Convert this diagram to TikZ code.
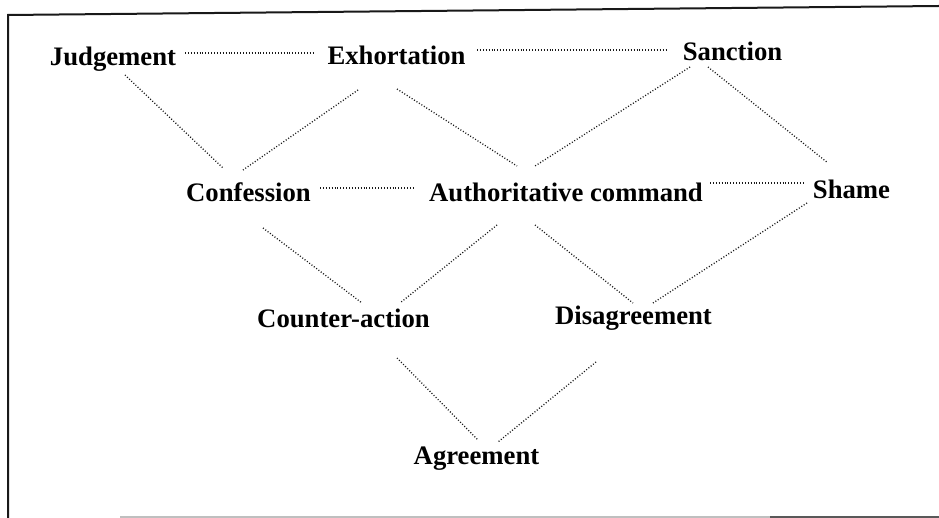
\documentclass[tikz,border=0pt]{standalone}
\usepackage{fontspec}
\setmainfont{Liberation Serif}
\begin{document}
\begin{tikzpicture}[x=1pt,y=-1pt,
  term/.style={anchor=base,inner sep=0pt,font=\fontsize{26.7}{30}\selectfont\bfseries,text=black},
  link/.style={draw=black!90,line width=1.3pt,dash pattern=on 1pt off 1.9pt},
  frame/.style={draw=black!90,line width=2pt}]
  % canvas
  \fill[white] (0,0) rectangle (939,518);
  \useasboundingbox (0,0) rectangle (939,518);

  % frame (left and top edges, faint bottom edge)
  \draw[frame] (8,518) -- (8,15) -- (939,6);
  \draw[black!25,line width=1.5pt] (120,517) -- (770,517);
  \draw[black!65,line width=2pt] (770,517) -- (939,517);

  % terms
  \node[term] (jud) at (113,66)   {Judgement};
  \node[term] (exh) at (396.5,65) {Exhortation};
  \node[term] (san) at (732.5,61) {Sanction};
  \node[term] (con) at (248.5,202) {Confession};
  \node[term] (aut) at (566,202)  {Authoritative command};
  \node[term] (sha) at (851.5,199) {Shame};
  \node[term] (cta) at (343.5,327) {Counter-action};
  \node[term] (dis) at (633.5,325) {Disagreement};
  \node[term] (agr) at (476.5,464) {Agreement};

  % dotted relations
  \draw[link] ([shift={(72,-13)}]jud.base) -- ([shift={(-81.5,-12)}]exh.base);
  \draw[link] ([shift={(80.5,-15)}]exh.base) -- ([shift={(-65.5,-11)}]san.base);
  \draw[link] ([shift={(12,9)}]jud.base) -- ([shift={(-25.5,-34)}]con.base);
  \draw[link] ([shift={(-38.5,25)}]exh.base) -- ([shift={(-5.5,-32)}]con.base);
  \draw[link] ([shift={(0.5,24)}]exh.base) -- ([shift={(-49,-36)}]aut.base);
  \draw[link] ([shift={(-42.5,6)}]san.base) -- ([shift={(-31,-36)}]aut.base);
  \draw[link] ([shift={(-24.5,6)}]san.base) -- ([shift={(-23.5,-36)}]sha.base);
  \draw[link] ([shift={(71.5,-14)}]con.base) -- ([shift={(-151,-14)}]aut.base);
  \draw[link] ([shift={(144,-19)}]aut.base) -- ([shift={(-48.5,-16)}]sha.base);
  \draw[link] ([shift={(14.5,26)}]con.base) -- ([shift={(18.5,-24)}]cta.base);
  \draw[link] ([shift={(-69,23)}]aut.base) -- ([shift={(56.5,-24)}]cta.base);
  \draw[link] ([shift={(-31,23)}]aut.base) -- ([shift={(-0.5,-22)}]dis.base);
  \draw[link] ([shift={(-44.5,4)}]sha.base) -- ([shift={(19.5,-22)}]dis.base);
  \draw[link] ([shift={(53.5,31)}]cta.base) -- ([shift={(1.5,-24)}]agr.base);
  \draw[link] ([shift={(-37.5,37)}]dis.base) -- ([shift={(21.5,-22)}]agr.base);
\end{tikzpicture}
\end{document}
